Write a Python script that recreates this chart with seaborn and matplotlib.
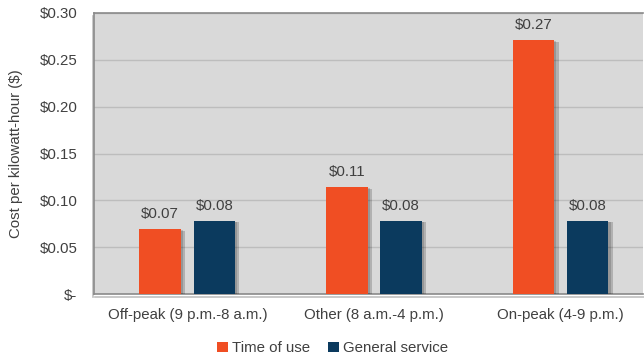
import pandas as pd
import seaborn as sns
import matplotlib.pyplot as plt
import matplotlib.patheffects as pe
from matplotlib.patches import Patch

# =========================
# DATA
# =========================
periods = ['Off-peak (9 p.m.-8 a.m.)', 'Other (8 a.m.-4 p.m.)', 'On-peak (4-9 p.m.)']
rates = ['Time of use', 'General service']
colors = ['#f04e23', '#0b3a5e']
time_of_use = [0.069, 0.114, 0.271]
general_service = [0.078, 0.078, 0.078]
bar_labels_tou = ['$0.07', '$0.11', '$0.27']
bar_labels_gs = ['$0.08', '$0.08', '$0.08']
ytick_labels = ['$-', '$0.05', '$0.10', '$0.15', '$0.20', '$0.25', '$0.30']

df = pd.DataFrame({
    'period': periods * 2,
    'rate': [rates[0]] * 3 + [rates[1]] * 3,
    'cost': time_of_use + general_service,
})

# =========================
# STYLE
# =========================
sns.set_style('white')
plt.rcParams['font.family'] = ['Liberation Sans', 'DejaVu Sans']
text_col = '#404040'
fs = 10.8

fig = plt.figure(figsize=(6.44, 3.6), dpi=100)
ax = fig.add_axes([0.146, 0.183, 0.852, 0.781])
ax.set_facecolor('#d9d9d9')

sns.barplot(data=df, x='period', y='cost', hue='rate', hue_order=rates,
            palette=colors, width=0.58, gap=0.23, linewidth=0,
            saturation=1, ax=ax, zorder=3, legend=False)

shadow = [pe.SimplePatchShadow(offset=(3, -1), shadow_rgbFace='#000000', alpha=0.18),
          pe.SimplePatchShadow(offset=(1.5, -0.5), shadow_rgbFace='#000000', alpha=0.15),
          pe.Normal()]
for p in ax.patches:
    p.set_path_effects(shadow)

# bar value labels
for cont, labs in zip(ax.containers, [bar_labels_tou, bar_labels_gs]):
    ax.bar_label(cont, labels=labs, padding=6, fontsize=fs, color=text_col)

# =========================
# AXES
# =========================
ax.set_ylim(0, 0.30)
ax.set_xlim(-0.5, 2.44)
ax.set_yticks([0, 0.05, 0.10, 0.15, 0.20, 0.25, 0.30])
ax.set_yticklabels(ytick_labels)
ax.yaxis.grid(True, color='#bdbdbd', linewidth=1, zorder=0)
ax.set_axisbelow(True)
ax.tick_params(axis='both', length=0, labelsize=fs, labelcolor=text_col)
ax.tick_params(axis='y', pad=12)
ax.tick_params(axis='x', pad=10)
ax.set_xlabel('')
ax.set_ylabel('Cost per kilowatt-hour ($)', fontsize=fs, color=text_col, labelpad=12)

for s in ['left', 'top', 'bottom']:
    ax.spines[s].set_color('#8a8a8a')
    ax.spines[s].set_linewidth(1.2)
ax.spines['right'].set_visible(False)
ax.spines['bottom'].set_path_effects([pe.SimpleLineShadow(offset=(1, -2), alpha=0.25), pe.Normal()])
ax.spines['left'].set_path_effects([pe.SimpleLineShadow(offset=(-1, -2), alpha=0.25), pe.Normal()])

# =========================
# LEGEND
# =========================
handles = [Patch(facecolor=c, linewidth=0) for c in colors]
fig.legend(handles, rates, loc='center', bbox_to_anchor=(0.517, 0.033), ncol=2,
           frameon=False, fontsize=fs, handlelength=0.7, handleheight=0.7,
           handletextpad=0.3, columnspacing=1.2, labelcolor=text_col)

plt.savefig('out.png', dpi=100)
